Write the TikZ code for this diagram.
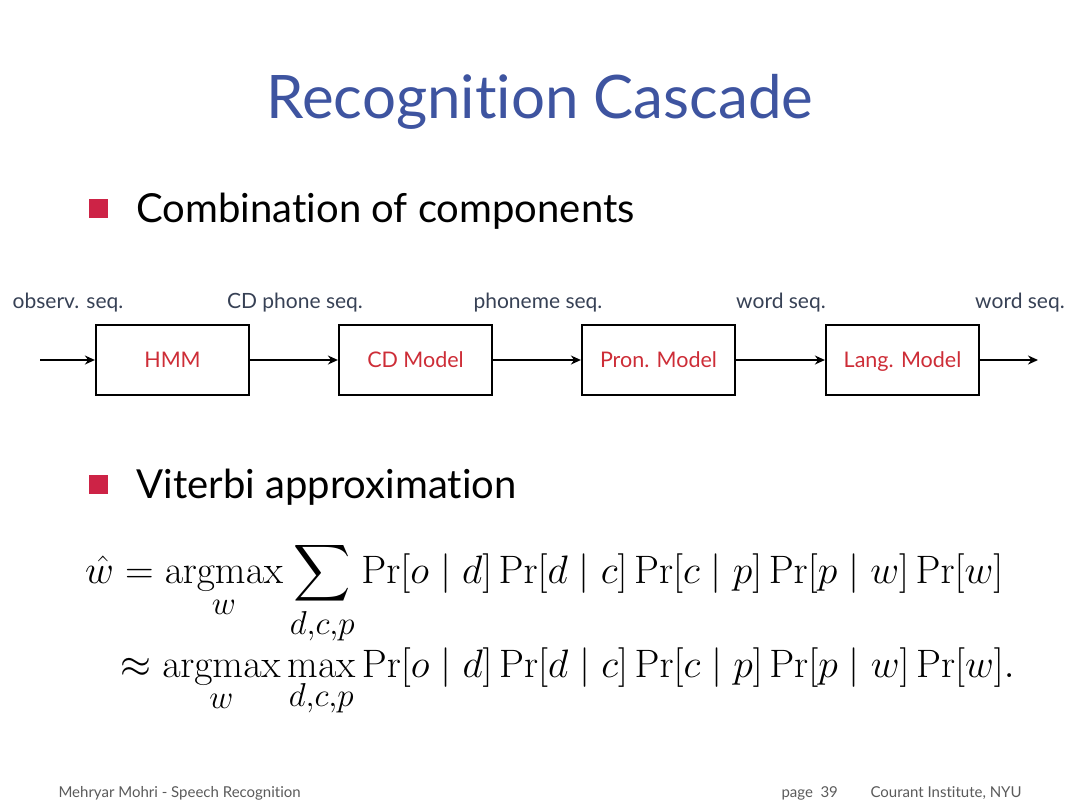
\documentclass[tikz,border=0pt]{standalone}
\usepackage{amsmath}
\usepackage{graphicx}
\usepackage[no-math]{fontspec}
\setmainfont[Ligatures={NoCommon}]{Lato}
\usetikzlibrary{arrows.meta}
\definecolor{titleblue}{RGB}{62,84,160}
\definecolor{bulletred}{RGB}{205,35,70}
\definecolor{boxred}{RGB}{205,45,55}
\definecolor{lblgray}{RGB}{55,65,85}
\definecolor{footgray}{RGB}{90,90,90}
\DeclareMathOperator*{\argmax}{argmax}
\begin{document}
\begin{tikzpicture}[x=1pt,y=-1pt,
  stagebox/.style={draw,line width=2.2pt,minimum width=153pt,minimum height=70pt,inner sep=0pt,
    font=\fontsize{21.5}{25}\selectfont,text=boxred,text height=17pt,text depth=2pt},
  seqlabel/.style={font=\fontsize{21}{25}\selectfont,text=lblgray,anchor=base},
  flow/.style={line width=1.8pt,-{Stealth[length=10pt,width=9pt]}},
  bulletsq/.style={fill=bulletred,minimum size=19pt,inner sep=0pt},
  bullettext/.style={font=\fontsize{40}{46}\selectfont,anchor=base west},
  foot/.style={font=\fontsize{15}{17}\selectfont,text=footgray,anchor=base west},
  eq/.style={font=\fontsize{24.88}{30}\selectfont,anchor=base west,inner sep=0pt}]
\useasboundingbox (0,0) rectangle (1080,809);
\node[font=\fontsize{60}{68}\selectfont,text=titleblue,anchor=base] (title) at (540,118) {Recognition Cascade};
\node[bulletsq] (b1) at (98,208) {};
\node[bullettext] (t1) at (133,222) {Combination of components};
\node[seqlabel] (l0) at (68,308) {observ. seq.};
\node[seqlabel] (l1) at (295,308) {CD phone seq.};
\node[seqlabel] (l2) at (538,308) {phoneme seq.};
\node[seqlabel] (l3) at (781,308) {word seq.};
\node[seqlabel] (l4) at (1020,308) {word seq.};
\node[stagebox] (hmm) at (172.5,360) {HMM};
\node[stagebox] (cd) at (415.5,360) {CD Model};
\node[stagebox] (pron) at (658.5,360) {Pron. Model};
\node[stagebox] (lang) at (902.5,360) {Lang. Model};
\coordinate (in) at (40,360);
\coordinate (out) at (1038,360);
\draw[flow] (in) -- (hmm.west);
\draw[flow] (hmm.east) -- (cd.west);
\draw[flow] (cd.east) -- (pron.west);
\draw[flow] (pron.east) -- (lang.west);
\draw[flow] (lang.east) -- (out);
\node[bulletsq] (b2) at (98,484) {};
\node[bullettext] (t2) at (133,498) {Viterbi approximation};
\node[eq] (eq1) at (85,583) {\scalebox{1.595}{$\displaystyle \hat{w} = \argmax_{w} \sum_{d,c,p} \Pr[o \mid d] \Pr[d \mid c] \Pr[c \mid p] \Pr[p \mid w] \Pr[w]$}};
\node[eq] (eq2) at (120,677) {\scalebox{1.595}{$\displaystyle \approx \argmax_{w} \max_{d,c,p} \Pr[o \mid d] \Pr[d \mid c] \Pr[c \mid p] \Pr[p \mid w] \Pr[w].$}};
\node[foot] (f1) at (55,797) {Mehryar Mohri - Speech Recognition};
\node[foot] (f2) at (778,797) {page\enspace 39};
\node[foot] (f3) at (867,797) {Courant Institute, NYU};
\end{tikzpicture}
\end{document}
